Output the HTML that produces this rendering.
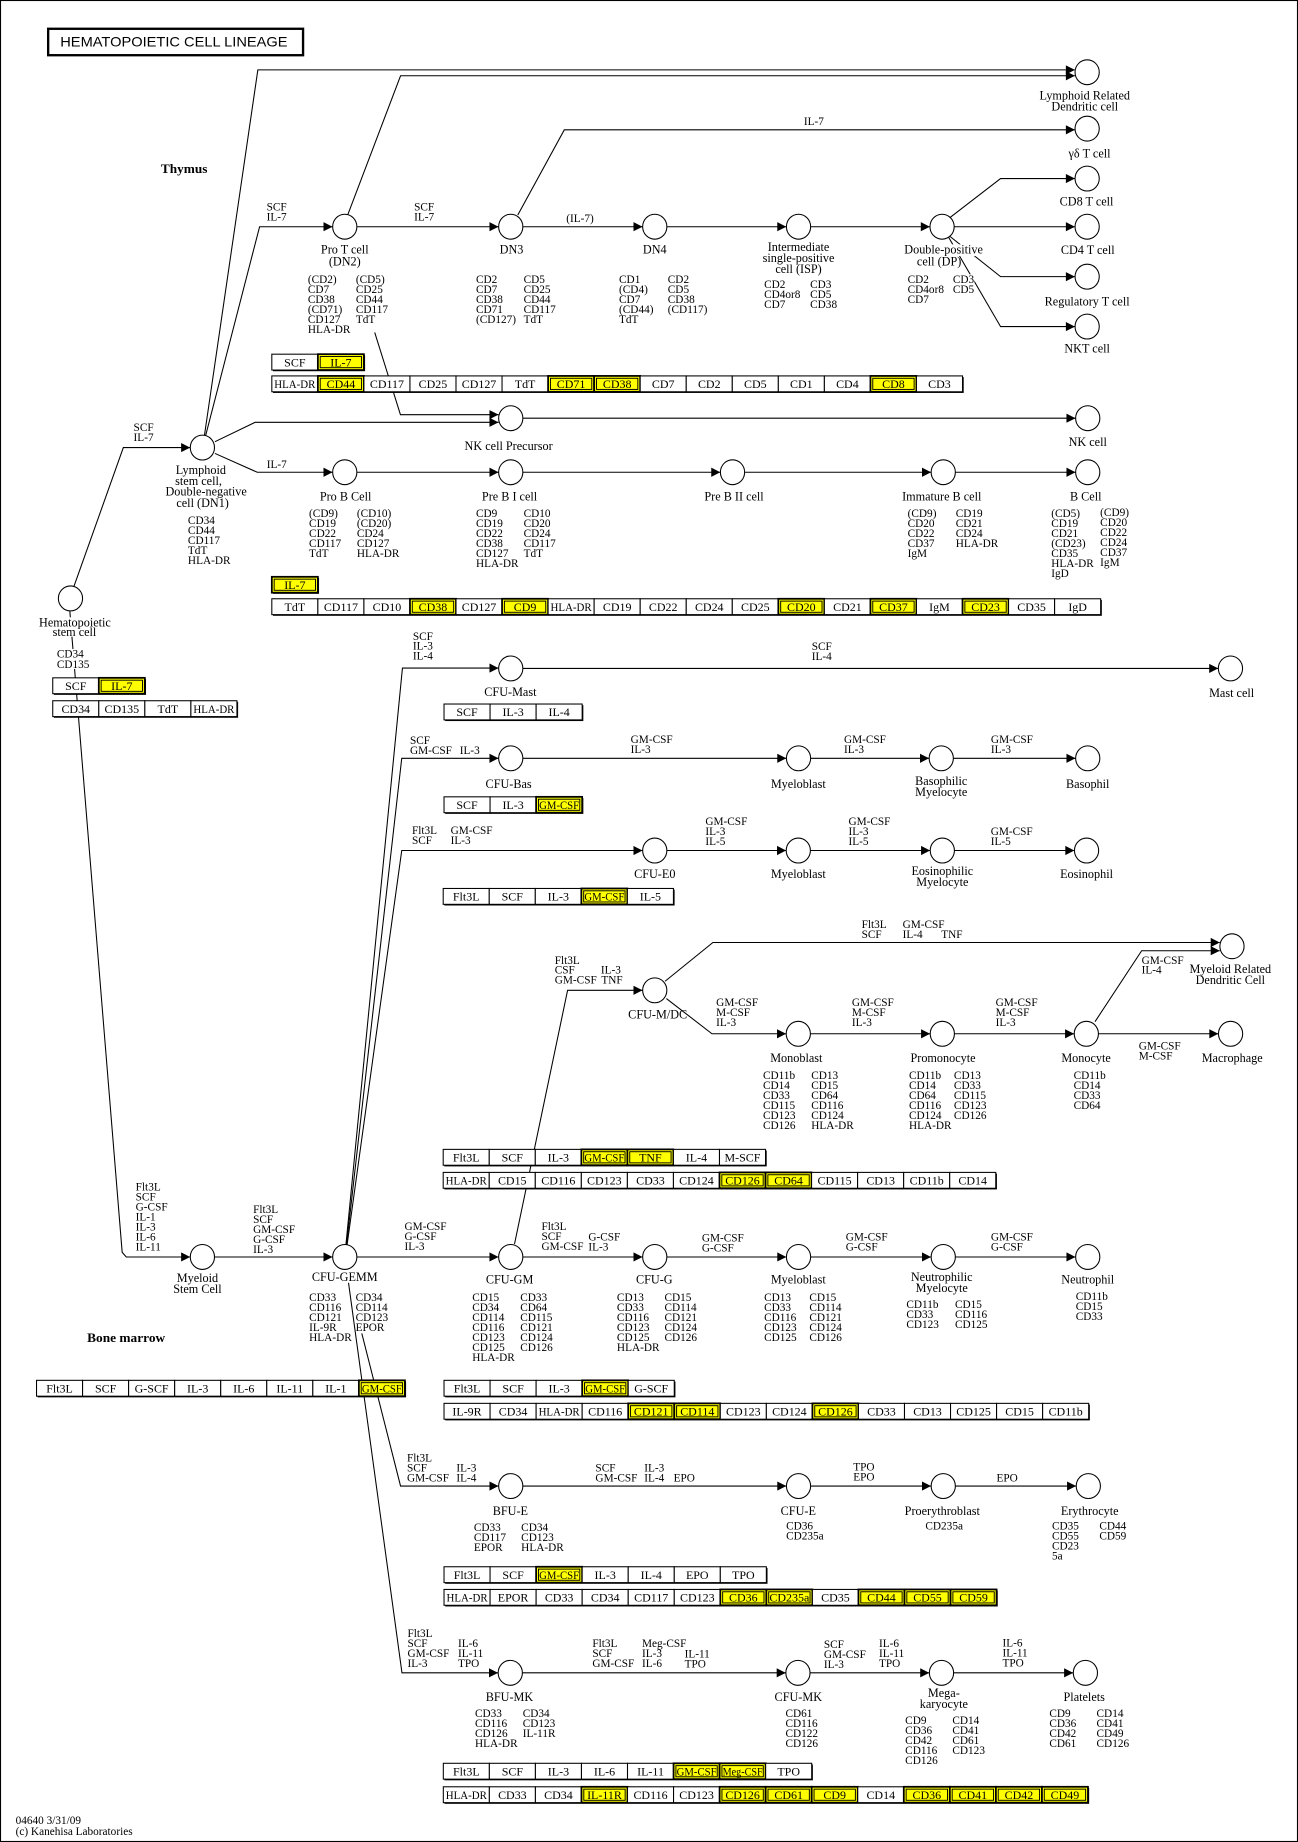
<!DOCTYPE html>
<html><head><meta charset="utf-8"><title>Hematopoietic cell lineage</title>
<style>
html,body{margin:0;padding:0;background:#fff;}
svg{display:block;}
text{font-family:"Liberation Serif","DejaVu Serif",serif;font-size:9.6px;fill:#000;}
.m{text-anchor:middle;}
.nl text{font-size:10.4px;}
.bx{font-size:10.2px;text-anchor:middle;}
.ln{fill:none;stroke:#000;stroke-width:0.9;}
.nd{fill:#fff;stroke:#000;stroke-width:0.9;}
.w{fill:#fff;stroke:#000;stroke-width:0.9;}
.y{fill:#ff0;stroke:#000;stroke-width:1.5;}
.yi{fill:none;stroke:#000;stroke-width:0.8;}
.bg{fill:#fff;}
.ttl{font-family:"Liberation Sans","DejaVu Sans",sans-serif;font-size:12px;}
.bold{font-weight:bold;font-size:11px;}
</style></head>
<body>
<svg width="1298" height="1842" viewBox="0 0 1105 1568" preserveAspectRatio="none" xmlns="http://www.w3.org/2000/svg">
<rect x="0" y="0" width="1105" height="1568" fill="#fff"/>
<rect x="0.45" y="0.45" width="1104.1" height="1567.1" fill="none" stroke="#000" stroke-width="0.9"/>

<!-- title -->
<rect x="41" y="24.5" width="217" height="22.5" fill="#fff" stroke="#000" stroke-width="2"/>
<text class="ttl" x="51.3" y="39.4" textLength="193.5" lengthAdjust="spacingAndGlyphs">HEMATOPOIETIC  CELL  LINEAGE</text>

<text class="bold" x="137" y="147.4" textLength="39.6" lengthAdjust="spacingAndGlyphs">Thymus</text>
<text class="bold" x="74.2" y="1142.2" textLength="66.4" lengthAdjust="spacingAndGlyphs">Bone marrow</text>

<!-- ===== EDGES ===== -->
<g class="ln">
<path d="M174 371 L219.5 59.5 L915 59.5"/>
<path d="M296 183 L341 64.5 L915 64.5"/>
<path d="M175 371 L221 193 L283 193"/>
<path d="M304 193 L424.5 193"/>
<path d="M440.8 183 L480.4 110.5 L915 110.5"/>
<path d="M445 193 L547 193"/>
<path d="M567.7 193 L669.5 193"/>
<path d="M690 193 L791.7 193"/>
<path d="M809 185 L851.8 152 L915 152"/>
<path d="M812.3 193 L915 193"/>
<path d="M808.4 201 L851.8 235.5 L915 235.5"/>
<path d="M807 201 L851.8 278 L915 278"/>
<path d="M183 376 L217.2 359.5 L424.5 359.5"/>
<path d="M319 283 L340.9 353 L424.5 353"/>
<path d="M445 356 L915.6 356"/>
<path d="M183 386 L219 402 L283 402"/>
<path d="M304 402 L424.5 402"/>
<path d="M445 402 L613.3 402"/>
<path d="M634 402 L792.7 402"/>
<path d="M813.3 402 L915.7 402"/>
<path d="M63 499 L105 381 L161.9 381"/>
<path d="M59.4 519.5 L104 1066 L107.5 1070 L161.9 1070"/>
<path d="M182.6 1070 L283.1 1070"/>
<path d="M294.5 1059.5 L342.6 568.7 L424.5 568.7"/>
<path d="M295 1059.5 L342 645.5 L424.5 645.5"/>
<path d="M295.5 1059.5 L342 724 L547 724"/>
<path d="M445 569 L1037.1 569"/>
<path d="M445 645.5 L669.4 645.5"/>
<path d="M690 645.5 L790.9 645.5"/>
<path d="M811.6 645.5 L915.6 645.5"/>
<path d="M567.7 724 L669.2 724"/>
<path d="M690 724 L791.8 724"/>
<path d="M812.5 724 L914.6 724"/>
<path d="M438 1059 L483.2 843 L547 843"/>
<path d="M566.2 835.3 L606.9 802.3 L1038.4 802.3"/>
<path d="M567.3 850 L606.1 880 L669.2 880"/>
<path d="M690 880 L791.8 880"/>
<path d="M812.5 880 L914.4 880"/>
<path d="M935 880 L1037.2 880"/>
<path d="M932.2 869.7 L971.9 809.3 L1038.4 809.3"/>
<path d="M303.8 1070 L424.4 1070"/>
<path d="M445 1070 L547 1070"/>
<path d="M567.7 1070 L669.4 1070"/>
<path d="M690 1070 L792.6 1070"/>
<path d="M813.3 1070 L915.6 1070"/>
<path d="M308 1135 L341 1265 L424.4 1265"/>
<path d="M445 1265 L669.4 1265"/>
<path d="M690 1265 L792.6 1265"/>
<path d="M813.3 1265 L916.1 1265"/>
<path d="M296.7 1092 L342.2 1424 L424 1424"/>
<path d="M444.7 1424 L668.9 1424"/>
<path d="M689.6 1424 L791.1 1424"/>
<path d="M811.8 1424 L913.6 1424"/>
</g>

<!-- ===== ARROWHEADS ===== -->
<g fill="#000">
<path d="M915.1 59.5 l-7.7 -3.9 v7.8 z"/>
<path d="M915.1 64.5 l-7.7 -3.9 v7.8 z"/>
<path d="M283.1 193 l-7.7 -3.9 v7.8 z"/>
<path d="M424.4 193 l-7.7 -3.9 v7.8 z"/>
<path d="M915.1 110.5 l-7.7 -3.9 v7.8 z"/>
<path d="M547 193 l-7.7 -3.9 v7.8 z"/>
<path d="M669.4 193 l-7.7 -3.9 v7.8 z"/>
<path d="M791.6 193 l-7.7 -3.9 v7.8 z"/>
<path d="M915.1 152 l-7.7 -3.9 v7.8 z"/>
<path d="M915.1 193 l-7.7 -3.9 v7.8 z"/>
<path d="M915.1 235.5 l-7.7 -3.9 v7.8 z"/>
<path d="M915.1 278 l-7.7 -3.9 v7.8 z"/>
<path d="M424.4 359.5 l-7.7 -3.9 v7.8 z"/>
<path d="M424.4 353 l-7.7 -3.9 v7.8 z"/>
<path d="M915.6 356 l-7.7 -3.9 v7.8 z"/>
<path d="M283.1 402 l-7.7 -3.9 v7.8 z"/>
<path d="M424.4 402 l-7.7 -3.9 v7.8 z"/>
<path d="M613.2 402 l-7.7 -3.9 v7.8 z"/>
<path d="M792.6 402 l-7.7 -3.9 v7.8 z"/>
<path d="M915.6 402 l-7.7 -3.9 v7.8 z"/>
<path d="M161.9 381 l-7.7 -3.9 v7.8 z"/>
<path d="M161.9 1070 l-7.7 -3.9 v7.8 z"/>
<path d="M283.1 1070 l-7.7 -3.9 v7.8 z"/>
<path d="M424.4 568.7 l-7.7 -3.9 v7.8 z"/>
<path d="M424.4 645.5 l-7.7 -3.9 v7.8 z"/>
<path d="M547 724 l-7.7 -3.9 v7.8 z"/>
<path d="M1037.1 569 l-7.7 -3.9 v7.8 z"/>
<path d="M669.4 645.5 l-7.7 -3.9 v7.8 z"/>
<path d="M790.9 645.5 l-7.7 -3.9 v7.8 z"/>
<path d="M915.6 645.5 l-7.7 -3.9 v7.8 z"/>
<path d="M669.2 724 l-7.7 -3.9 v7.8 z"/>
<path d="M791.8 724 l-7.7 -3.9 v7.8 z"/>
<path d="M914.6 724 l-7.7 -3.9 v7.8 z"/>
<path d="M547 843 l-7.7 -3.9 v7.8 z"/>
<path d="M1038.4 802.3 l-7.7 -3.9 v7.8 z"/>
<path d="M1038.4 809.3 l-7.7 -3.9 v7.8 z"/>
<path d="M669.2 880 l-7.7 -3.9 v7.8 z"/>
<path d="M791.8 880 l-7.7 -3.9 v7.8 z"/>
<path d="M914.4 880 l-7.7 -3.9 v7.8 z"/>
<path d="M1037.2 880 l-7.7 -3.9 v7.8 z"/>
<path d="M424.4 1070 l-7.7 -3.9 v7.8 z"/>
<path d="M547 1070 l-7.7 -3.9 v7.8 z"/>
<path d="M669.4 1070 l-7.7 -3.9 v7.8 z"/>
<path d="M792.6 1070 l-7.7 -3.9 v7.8 z"/>
<path d="M915.6 1070 l-7.7 -3.9 v7.8 z"/>
<path d="M424.4 1265 l-7.7 -3.9 v7.8 z"/>
<path d="M669.4 1265 l-7.7 -3.9 v7.8 z"/>
<path d="M792.6 1265 l-7.7 -3.9 v7.8 z"/>
<path d="M916.1 1265 l-7.7 -3.9 v7.8 z"/>
<path d="M424 1424 l-7.7 -3.9 v7.8 z"/>
<path d="M668.9 1424 l-7.7 -3.9 v7.8 z"/>
<path d="M791.1 1424 l-7.7 -3.9 v7.8 z"/>
<path d="M913.6 1424 l-7.7 -3.9 v7.8 z"/>
</g>

<!-- ===== NODES ===== -->
<g class="nd">
<ellipse cx="60" cy="509.4" rx="10.3" ry="10.6"/>
<ellipse cx="172.3" cy="381" rx="10.3" ry="10.6"/>
<ellipse cx="293.5" cy="193" rx="10.3" ry="10.6"/>
<ellipse cx="434.8" cy="193" rx="10.3" ry="10.6"/>
<ellipse cx="557.4" cy="193" rx="10.3" ry="10.6"/>
<ellipse cx="679.8" cy="193" rx="10.3" ry="10.6"/>
<ellipse cx="802" cy="193" rx="10.3" ry="10.6"/>
<ellipse cx="925.5" cy="61.5" rx="10.3" ry="10.6"/>
<ellipse cx="925.5" cy="109.5" rx="10.3" ry="10.6"/>
<ellipse cx="925.5" cy="152" rx="10.3" ry="10.6"/>
<ellipse cx="925.5" cy="193" rx="10.3" ry="10.6"/>
<ellipse cx="925.5" cy="235.5" rx="10.3" ry="10.6"/>
<ellipse cx="925.5" cy="278" rx="10.3" ry="10.6"/>
<ellipse cx="434.8" cy="356" rx="10.3" ry="10.6"/>
<ellipse cx="926" cy="356" rx="10.3" ry="10.6"/>
<ellipse cx="293.5" cy="402" rx="10.3" ry="10.6"/>
<ellipse cx="434.8" cy="402" rx="10.3" ry="10.6"/>
<ellipse cx="623.6" cy="402" rx="10.3" ry="10.6"/>
<ellipse cx="803" cy="402" rx="10.3" ry="10.6"/>
<ellipse cx="926" cy="402" rx="10.3" ry="10.6"/>
<ellipse cx="434.8" cy="569" rx="10.3" ry="10.6"/>
<ellipse cx="1047.5" cy="569" rx="10.3" ry="10.6"/>
<ellipse cx="434.8" cy="645.5" rx="10.3" ry="10.6"/>
<ellipse cx="679.8" cy="645.5" rx="10.3" ry="10.6"/>
<ellipse cx="801.3" cy="645.5" rx="10.3" ry="10.6"/>
<ellipse cx="926" cy="645.5" rx="10.3" ry="10.6"/>
<ellipse cx="557.4" cy="724" rx="10.3" ry="10.6"/>
<ellipse cx="679.6" cy="724" rx="10.3" ry="10.6"/>
<ellipse cx="802.2" cy="724" rx="10.3" ry="10.6"/>
<ellipse cx="925" cy="724" rx="10.3" ry="10.6"/>
<ellipse cx="557.4" cy="843" rx="10.3" ry="10.6"/>
<ellipse cx="1048.8" cy="805.5" rx="10.3" ry="10.6"/>
<ellipse cx="679.6" cy="880" rx="10.3" ry="10.6"/>
<ellipse cx="802.2" cy="880" rx="10.3" ry="10.6"/>
<ellipse cx="924.8" cy="880" rx="10.3" ry="10.6"/>
<ellipse cx="1047.6" cy="880" rx="10.3" ry="10.6"/>
<ellipse cx="172.3" cy="1070" rx="10.3" ry="10.6"/>
<ellipse cx="293.5" cy="1070" rx="10.3" ry="10.6"/>
<ellipse cx="434.8" cy="1070" rx="10.3" ry="10.6"/>
<ellipse cx="557.4" cy="1070" rx="10.3" ry="10.6"/>
<ellipse cx="679.8" cy="1070" rx="10.3" ry="10.6"/>
<ellipse cx="803" cy="1070" rx="10.3" ry="10.6"/>
<ellipse cx="926" cy="1070" rx="10.3" ry="10.6"/>
<ellipse cx="434.8" cy="1265" rx="10.3" ry="10.6"/>
<ellipse cx="679.8" cy="1265" rx="10.3" ry="10.6"/>
<ellipse cx="803" cy="1265" rx="10.3" ry="10.6"/>
<ellipse cx="926.5" cy="1265" rx="10.3" ry="10.6"/>
<ellipse cx="434.4" cy="1424" rx="10.3" ry="10.6"/>
<ellipse cx="679.3" cy="1424" rx="10.3" ry="10.6"/>
<ellipse cx="801.5" cy="1424" rx="10.3" ry="10.6"/>
<ellipse cx="924" cy="1424" rx="10.3" ry="10.6"/>
</g>

<!-- white backgrounds hiding lines behind labels -->
<rect class="bg" x="30" y="525.5" width="67" height="16.5"/>
<rect class="bg" x="47" y="552.5" width="30" height="17"/>
<rect class="bg" x="769" y="208" width="68" height="10"/>
<rect class="bg" x="810.5" y="233.5" width="19" height="16.5"/>

<!-- ===== NODE LABELS ===== -->
<g class="m nl">
<text x="923.5" y="84.9">Lymphoid Related</text>
<text x="923.5" y="94.2">Dendritic cell</text>
<text x="927.5" y="134.2">γδ T cell</text>
<text x="925" y="174.9">CD8 T cell</text>
<text x="926" y="216.2">CD4 T cell</text>
<text x="925.5" y="260.2">Regulatory T cell</text>
<text x="925.5" y="300.2">NKT cell</text>
<text x="293.5" y="216">Pro T cell</text>
<text x="293.5" y="226.2">(DN2)</text>
<text x="435.5" y="216">DN3</text>
<text x="557.4" y="216">DN4</text>
<text x="679.8" y="213.7">Intermediate</text>
<text x="679.8" y="223.1">single-positive</text>
<text x="679.8" y="232.2">cell (ISP)</text>
<text x="803.3" y="216">Double-positive</text>
<text x="799.5" y="226.2">cell (DP)</text>
<text x="433" y="382.9">NK cell Precursor</text>
<text x="926" y="379.7">NK cell</text>
<text x="171" y="403.3">Lymphoid</text>
<text x="169" y="412.7">stem cell,</text>
<text x="175.5" y="422">Double-negative</text>
<text x="172.5" y="431.7">cell (DN1)</text>
<text x="294.2" y="426.2">Pro B Cell</text>
<text x="433.8" y="426.2">Pre B I cell</text>
<text x="624.9" y="426.2">Pre B II cell</text>
<text x="801.7" y="426.2">Immature B cell</text>
<text x="924.3" y="426.2">B Cell</text>
<text x="63.8" y="533.2">Hematopoietic</text>
<text x="63.4" y="541.5">stem cell</text>
<text x="434.5" y="592.3">CFU-Mast</text>
<text x="1048.5" y="593.2">Mast cell</text>
<text x="433" y="670.6">CFU-Bas</text>
<text x="679.6" y="670.6">Myeloblast</text>
<text x="801.3" y="668.1">Basophilic</text>
<text x="801.3" y="677.4">Myelocyte</text>
<text x="926" y="670.6">Basophil</text>
<text x="557.4" y="747.2">CFU-E0</text>
<text x="679.6" y="747.2">Myeloblast</text>
<text x="802.2" y="744.7">Eosinophilic</text>
<text x="802.2" y="754">Myelocyte</text>
<text x="925" y="747.2">Eosinophil</text>
<text x="559.9" y="867.2">CFU-M/DC</text>
<text x="1047.4" y="828.1">Myeloid Related</text>
<text x="1047.4" y="837.5">Dendritic Cell</text>
<text x="677.9" y="903.9">Monoblast</text>
<text x="802.8" y="903.9">Promonocyte</text>
<text x="924.6" y="903.9">Monocyte</text>
<text x="1049" y="903.9">Macrophage</text>
<text x="168.1" y="1091.4">Myeloid</text>
<text x="168.1" y="1100.5">Stem Cell</text>
<text x="293.5" y="1090.6">CFU-GEMM</text>
<text x="433.8" y="1092.8">CFU-GM</text>
<text x="557" y="1092.8">CFU-G</text>
<text x="679.6" y="1092.8">Myeloblast</text>
<text x="801.7" y="1090.3">Neutrophilic</text>
<text x="801.7" y="1099.7">Myelocyte</text>
<text x="926" y="1092.8">Neutrophil</text>
<text x="434.5" y="1289.5">BFU-E</text>
<text x="679.6" y="1289.5">CFU-E</text>
<text x="802.2" y="1289.5">Proerythroblast</text>
<text x="927.7" y="1289.5">Erythrocyte</text>
<text x="433.7" y="1448.1">BFU-MK</text>
<text x="679.6" y="1448.1">CFU-MK</text>
<text x="803.5" y="1444.7">Mega-</text>
<text x="803.5" y="1454">karyocyte</text>
<text x="923" y="1448.1">Platelets</text>
</g>
<text class="m" x="803.8" y="1302.2">CD235a</text>

<!-- ===== MARKER LISTS ===== -->
<g>
<text x="262.1" y="241"><tspan>(CD2)</tspan><tspan x="262.1" dy="8.5">CD7</tspan><tspan x="262.1" dy="8.5">CD38</tspan><tspan x="262.1" dy="8.5">(CD71)</tspan><tspan x="262.1" dy="8.5">CD127</tspan><tspan x="262.1" dy="8.5">HLA-DR</tspan></text>
<text x="303" y="241"><tspan>(CD5)</tspan><tspan x="303" dy="8.5">CD25</tspan><tspan x="303" dy="8.5">CD44</tspan><tspan x="303" dy="8.5">CD117</tspan><tspan x="303" dy="8.5">TdT</tspan></text>
<text x="405.2" y="241"><tspan>CD2</tspan><tspan x="405.2" dy="8.5">CD7</tspan><tspan x="405.2" dy="8.5">CD38</tspan><tspan x="405.2" dy="8.5">CD71</tspan><tspan x="405.2" dy="8.5">(CD127)</tspan></text>
<text x="445.8" y="241"><tspan>CD5</tspan><tspan x="445.8" dy="8.5">CD25</tspan><tspan x="445.8" dy="8.5">CD44</tspan><tspan x="445.8" dy="8.5">CD117</tspan><tspan x="445.8" dy="8.5">TdT</tspan></text>
<text x="527" y="241"><tspan>CD1</tspan><tspan x="527" dy="8.5">(CD4)</tspan><tspan x="527" dy="8.5">CD7</tspan><tspan x="527" dy="8.5">(CD44)</tspan><tspan x="527" dy="8.5">TdT</tspan></text>
<text x="568.5" y="241"><tspan>CD2</tspan><tspan x="568.5" dy="8.5">CD5</tspan><tspan x="568.5" dy="8.5">CD38</tspan><tspan x="568.5" dy="8.5">(CD117)</tspan></text>
<text x="650.5" y="245.2"><tspan>CD2</tspan><tspan x="650.5" dy="8.5">CD4or8</tspan><tspan x="650.5" dy="8.5">CD7</tspan></text>
<text x="689.7" y="245.2"><tspan>CD3</tspan><tspan x="689.7" dy="8.5">CD5</tspan><tspan x="689.7" dy="8.5">CD38</tspan></text>
<text x="772.7" y="241"><tspan>CD2</tspan><tspan x="772.7" dy="8.5">CD4or8</tspan><tspan x="772.7" dy="8.5">CD7</tspan></text>
<text x="811.2" y="241"><tspan>CD3</tspan><tspan x="811.2" dy="8.5">CD5</tspan></text>

<text x="160" y="445.9"><tspan>CD34</tspan><tspan x="160" dy="8.5">CD44</tspan><tspan x="160" dy="8.5">CD117</tspan><tspan x="160" dy="8.5">TdT</tspan><tspan x="160" dy="8.5">HLA-DR</tspan></text>
<text x="263.1" y="440.2"><tspan>(CD9)</tspan><tspan x="263.1" dy="8.5">CD19</tspan><tspan x="263.1" dy="8.5">CD22</tspan><tspan x="263.1" dy="8.5">CD117</tspan><tspan x="263.1" dy="8.5">TdT</tspan></text>
<text x="303.8" y="440.2"><tspan>(CD10)</tspan><tspan x="303.8" dy="8.5">(CD20)</tspan><tspan x="303.8" dy="8.5">CD24</tspan><tspan x="303.8" dy="8.5">CD127</tspan><tspan x="303.8" dy="8.5">HLA-DR</tspan></text>
<text x="405.2" y="440.2"><tspan>CD9</tspan><tspan x="405.2" dy="8.5">CD19</tspan><tspan x="405.2" dy="8.5">CD22</tspan><tspan x="405.2" dy="8.5">CD38</tspan><tspan x="405.2" dy="8.5">CD127</tspan><tspan x="405.2" dy="8.5">HLA-DR</tspan></text>
<text x="445.8" y="440.2"><tspan>CD10</tspan><tspan x="445.8" dy="8.5">CD20</tspan><tspan x="445.8" dy="8.5">CD24</tspan><tspan x="445.8" dy="8.5">CD117</tspan><tspan x="445.8" dy="8.5">TdT</tspan></text>
<text x="772.7" y="440.2"><tspan>(CD9)</tspan><tspan x="772.7" dy="8.5">CD20</tspan><tspan x="772.7" dy="8.5">CD22</tspan><tspan x="772.7" dy="8.5">CD37</tspan><tspan x="772.7" dy="8.5">IgM</tspan></text>
<text x="813.6" y="440.2"><tspan>CD19</tspan><tspan x="813.6" dy="8.5">CD21</tspan><tspan x="813.6" dy="8.5">CD24</tspan><tspan x="813.6" dy="8.5">HLA-DR</tspan></text>
<text x="894.9" y="440.2"><tspan>(CD5)</tspan><tspan x="894.9" dy="8.5">CD19</tspan><tspan x="894.9" dy="8.5">CD21</tspan><tspan x="894.9" dy="8.5">(CD23)</tspan><tspan x="894.9" dy="8.5">CD35</tspan><tspan x="894.9" dy="8.5">HLA-DR</tspan><tspan x="894.9" dy="8.5">IgD</tspan></text>
<text x="936.6" y="439.1"><tspan>(CD9)</tspan><tspan x="936.6" dy="8.5">CD20</tspan><tspan x="936.6" dy="8.5">CD22</tspan><tspan x="936.6" dy="8.5">CD24</tspan><tspan x="936.6" dy="8.5">CD37</tspan><tspan x="936.6" dy="8.5">IgM</tspan></text>

<text x="48.4" y="559.9"><tspan>CD34</tspan><tspan x="48.4" dy="8.6">CD135</tspan></text>

<text x="649.5" y="918.6"><tspan>CD11b</tspan><tspan x="649.5" dy="8.5">CD14</tspan><tspan x="649.5" dy="8.5">CD33</tspan><tspan x="649.5" dy="8.5">CD115</tspan><tspan x="649.5" dy="8.5">CD123</tspan><tspan x="649.5" dy="8.5">CD126</tspan></text>
<text x="690.6" y="918.6"><tspan>CD13</tspan><tspan x="690.6" dy="8.5">CD15</tspan><tspan x="690.6" dy="8.5">CD64</tspan><tspan x="690.6" dy="8.5">CD116</tspan><tspan x="690.6" dy="8.5">CD124</tspan><tspan x="690.6" dy="8.5">HLA-DR</tspan></text>
<text x="773.8" y="918.6"><tspan>CD11b</tspan><tspan x="773.8" dy="8.5">CD14</tspan><tspan x="773.8" dy="8.5">CD64</tspan><tspan x="773.8" dy="8.5">CD116</tspan><tspan x="773.8" dy="8.5">CD124</tspan><tspan x="773.8" dy="8.5">HLA-DR</tspan></text>
<text x="812.1" y="918.6"><tspan>CD13</tspan><tspan x="812.1" dy="8.5">CD33</tspan><tspan x="812.1" dy="8.5">CD115</tspan><tspan x="812.1" dy="8.5">CD123</tspan><tspan x="812.1" dy="8.5">CD126</tspan></text>
<text x="914" y="918.6"><tspan>CD11b</tspan><tspan x="914" dy="8.5">CD14</tspan><tspan x="914" dy="8.5">CD33</tspan><tspan x="914" dy="8.5">CD64</tspan></text>

<text x="263.2" y="1107.6"><tspan>CD33</tspan><tspan x="263.2" dy="8.5">CD116</tspan><tspan x="263.2" dy="8.5">CD121</tspan><tspan x="263.2" dy="8.5">IL-9R</tspan><tspan x="263.2" dy="8.5">HLA-DR</tspan></text>
<text x="302.7" y="1107.6"><tspan>CD34</tspan><tspan x="302.7" dy="8.5">CD114</tspan><tspan x="302.7" dy="8.5">CD123</tspan><tspan x="302.7" dy="8.5">EPOR</tspan></text>
<text x="402" y="1107.6"><tspan>CD15</tspan><tspan x="402" dy="8.5">CD34</tspan><tspan x="402" dy="8.5">CD114</tspan><tspan x="402" dy="8.5">CD116</tspan><tspan x="402" dy="8.5">CD123</tspan><tspan x="402" dy="8.5">CD125</tspan><tspan x="402" dy="8.5">HLA-DR</tspan></text>
<text x="442.9" y="1107.6"><tspan>CD33</tspan><tspan x="442.9" dy="8.5">CD64</tspan><tspan x="442.9" dy="8.5">CD115</tspan><tspan x="442.9" dy="8.5">CD121</tspan><tspan x="442.9" dy="8.5">CD124</tspan><tspan x="442.9" dy="8.5">CD126</tspan></text>
<text x="525.2" y="1107.6"><tspan>CD13</tspan><tspan x="525.2" dy="8.5">CD33</tspan><tspan x="525.2" dy="8.5">CD116</tspan><tspan x="525.2" dy="8.5">CD123</tspan><tspan x="525.2" dy="8.5">CD125</tspan><tspan x="525.2" dy="8.5">HLA-DR</tspan></text>
<text x="565.7" y="1107.6"><tspan>CD15</tspan><tspan x="565.7" dy="8.5">CD114</tspan><tspan x="565.7" dy="8.5">CD121</tspan><tspan x="565.7" dy="8.5">CD124</tspan><tspan x="565.7" dy="8.5">CD126</tspan></text>
<text x="650.5" y="1107.6"><tspan>CD13</tspan><tspan x="650.5" dy="8.5">CD33</tspan><tspan x="650.5" dy="8.5">CD116</tspan><tspan x="650.5" dy="8.5">CD123</tspan><tspan x="650.5" dy="8.5">CD125</tspan></text>
<text x="689" y="1107.6"><tspan>CD15</tspan><tspan x="689" dy="8.5">CD114</tspan><tspan x="689" dy="8.5">CD121</tspan><tspan x="689" dy="8.5">CD124</tspan><tspan x="689" dy="8.5">CD126</tspan></text>
<text x="771.6" y="1113.3"><tspan>CD11b</tspan><tspan x="771.6" dy="8.5">CD33</tspan><tspan x="771.6" dy="8.5">CD123</tspan></text>
<text x="813" y="1113.3"><tspan>CD15</tspan><tspan x="813" dy="8.5">CD116</tspan><tspan x="813" dy="8.5">CD125</tspan></text>
<text x="915.8" y="1106.7"><tspan>CD11b</tspan><tspan x="915.8" dy="8.5">CD15</tspan><tspan x="915.8" dy="8.5">CD33</tspan></text>

<text x="403.4" y="1303.2"><tspan>CD33</tspan><tspan x="403.4" dy="8.5">CD117</tspan><tspan x="403.4" dy="8.5">EPOR</tspan></text>
<text x="443.7" y="1303.2"><tspan>CD34</tspan><tspan x="443.7" dy="8.5">CD123</tspan><tspan x="443.7" dy="8.5">HLA-DR</tspan></text>
<text x="669.2" y="1302.2"><tspan>CD36</tspan><tspan x="669.2" dy="8.5">CD235a</tspan></text>
<text x="895.6" y="1302.2"><tspan>CD35</tspan><tspan x="895.6" dy="8.5">CD55</tspan><tspan x="895.6" dy="8.5">CD23</tspan><tspan x="895.6" dy="8.5">5a</tspan></text>
<text x="935.9" y="1302.2"><tspan>CD44</tspan><tspan x="935.9" dy="8.5">CD59</tspan></text>

<text x="404.4" y="1461.7"><tspan>CD33</tspan><tspan x="404.4" dy="8.5">CD116</tspan><tspan x="404.4" dy="8.5">CD126</tspan><tspan x="404.4" dy="8.5">HLA-DR</tspan></text>
<text x="445" y="1461.7"><tspan>CD34</tspan><tspan x="445" dy="8.5">CD123</tspan><tspan x="445" dy="8.5">IL-11R</tspan></text>
<text x="668.7" y="1461.7"><tspan>CD61</tspan><tspan x="668.7" dy="8.5">CD116</tspan><tspan x="668.7" dy="8.5">CD122</tspan><tspan x="668.7" dy="8.5">CD126</tspan></text>
<text x="770.6" y="1467.4"><tspan>CD9</tspan><tspan x="770.6" dy="8.5">CD36</tspan><tspan x="770.6" dy="8.5">CD42</tspan><tspan x="770.6" dy="8.5">CD116</tspan><tspan x="770.6" dy="8.5">CD126</tspan></text>
<text x="810.8" y="1467.4"><tspan>CD14</tspan><tspan x="810.8" dy="8.5">CD41</tspan><tspan x="810.8" dy="8.5">CD61</tspan><tspan x="810.8" dy="8.5">CD123</tspan></text>
<text x="893.3" y="1461.7"><tspan>CD9</tspan><tspan x="893.3" dy="8.5">CD36</tspan><tspan x="893.3" dy="8.5">CD42</tspan><tspan x="893.3" dy="8.5">CD61</tspan></text>
<text x="933.5" y="1461.7"><tspan>CD14</tspan><tspan x="933.5" dy="8.5">CD41</tspan><tspan x="933.5" dy="8.5">CD49</tspan><tspan x="933.5" dy="8.5">CD126</tspan></text>
</g>

<!-- ===== EDGE LABELS ===== -->
<g>
<text x="113.7" y="367"><tspan>SCF</tspan><tspan x="113.7" dy="8.5">IL-7</tspan></text>
<text x="227" y="179.2"><tspan>SCF</tspan><tspan x="227" dy="8.5">IL-7</tspan></text>
<text x="352.5" y="179.2"><tspan>SCF</tspan><tspan x="352.5" dy="8.5">IL-7</tspan></text>
<text class="m" x="493.8" y="188.8">(IL-7)</text>
<text class="m" x="692.9" y="106.2">IL-7</text>
<text x="227.1" y="398.2">IL-7</text>

<text x="351.5" y="544.6"><tspan>SCF</tspan><tspan x="351.5" dy="8.5">IL-3</tspan><tspan x="351.5" dy="8.5">IL-4</tspan></text>
<text x="691" y="553.2"><tspan>SCF</tspan><tspan x="691" dy="8.5">IL-4</tspan></text>
<text x="349" y="633.2"><tspan>SCF</tspan><tspan x="349" dy="8.5">GM-CSF</tspan></text>
<text x="391.4" y="641.7">IL-3</text>
<text x="536.9" y="632.6"><tspan>GM-CSF</tspan><tspan x="536.9" dy="8.5">IL-3</tspan></text>
<text x="718.5" y="632.6"><tspan>GM-CSF</tspan><tspan x="718.5" dy="8.5">IL-3</tspan></text>
<text x="843.6" y="632.6"><tspan>GM-CSF</tspan><tspan x="843.6" dy="8.5">IL-3</tspan></text>

<text x="350.7" y="709.8"><tspan>Flt3L</tspan><tspan x="350.7" dy="8.5">SCF</tspan></text>
<text x="383.6" y="709.8"><tspan>GM-CSF</tspan><tspan x="383.6" dy="8.5">IL-3</tspan></text>
<text x="600.5" y="702.2"><tspan>GM-CSF</tspan><tspan x="600.5" dy="8.5">IL-3</tspan><tspan x="600.5" dy="8.5">IL-5</tspan></text>
<text x="722.3" y="702.2"><tspan>GM-CSF</tspan><tspan x="722.3" dy="8.5">IL-3</tspan><tspan x="722.3" dy="8.5">IL-5</tspan></text>
<text x="843.4" y="710.7"><tspan>GM-CSF</tspan><tspan x="843.4" dy="8.5">IL-5</tspan></text>

<text x="472.3" y="820.4"><tspan>Flt3L</tspan><tspan x="472.3" dy="8.5">CSF</tspan><tspan x="472.3" dy="8.5">GM-CSF</tspan></text>
<text x="511.5" y="828.9"><tspan>IL-3</tspan><tspan x="512" dy="8.5">TNF</tspan></text>
<text x="733.5" y="790.1"><tspan>Flt3L</tspan><tspan x="733.5" dy="8.5">SCF</tspan></text>
<text x="768.4" y="790.1"><tspan>GM-CSF</tspan><tspan x="768.4" dy="8.5">IL-4</tspan></text>
<text x="801.3" y="798.6">TNF</text>
<text x="609.7" y="856.5"><tspan>GM-CSF</tspan><tspan x="609.7" dy="8.5">M-CSF</tspan><tspan x="609.7" dy="8.5">IL-3</tspan></text>
<text x="725.2" y="856.5"><tspan>GM-CSF</tspan><tspan x="725.2" dy="8.5">M-CSF</tspan><tspan x="725.2" dy="8.5">IL-3</tspan></text>
<text x="847.6" y="856.5"><tspan>GM-CSF</tspan><tspan x="847.6" dy="8.5">M-CSF</tspan><tspan x="847.6" dy="8.5">IL-3</tspan></text>
<text x="969.4" y="893.6"><tspan>GM-CSF</tspan><tspan x="969.4" dy="8.5">M-CSF</tspan></text>
<text x="971.9" y="820.4"><tspan>GM-CSF</tspan><tspan x="971.9" dy="8.5">IL-4</tspan></text>

<text x="115.5" y="1013.5"><tspan>Flt3L</tspan><tspan x="115.5" dy="8.5">SCF</tspan><tspan x="115.5" dy="8.5">G-CSF</tspan><tspan x="115.5" dy="8.5">IL-1</tspan><tspan x="115.5" dy="8.5">IL-3</tspan><tspan x="115.5" dy="8.5">IL-6</tspan><tspan x="115.5" dy="8.5">IL-11</tspan></text>
<text x="215.5" y="1032.7"><tspan>Flt3L</tspan><tspan x="215.5" dy="8.5">SCF</tspan><tspan x="215.5" dy="8.5">GM-CSF</tspan><tspan x="215.5" dy="8.5">G-CSF</tspan><tspan x="215.5" dy="8.5">IL-3</tspan></text>
<text x="344.4" y="1046.9"><tspan>GM-CSF</tspan><tspan x="344.4" dy="8.5">G-CSF</tspan><tspan x="344.4" dy="8.5">IL-3</tspan></text>
<text x="461" y="1046.9"><tspan>Flt3L</tspan><tspan x="461" dy="8.5">SCF</tspan><tspan x="461" dy="8.5">GM-CSF</tspan></text>
<text x="500.9" y="1056"><tspan>G-CSF</tspan><tspan x="500.9" dy="8.5">IL-3</tspan></text>
<text x="597.5" y="1056.8"><tspan>GM-CSF</tspan><tspan x="597.5" dy="8.5">G-CSF</tspan></text>
<text x="720" y="1056"><tspan>GM-CSF</tspan><tspan x="720" dy="8.5">G-CSF</tspan></text>
<text x="843.6" y="1056"><tspan>GM-CSF</tspan><tspan x="843.6" dy="8.5">G-CSF</tspan></text>

<text x="346.5" y="1244.1"><tspan>Flt3L</tspan><tspan x="346.5" dy="8.5">SCF</tspan><tspan x="346.5" dy="8.5">GM-CSF</tspan></text>
<text x="388.5" y="1252.6"><tspan>IL-3</tspan><tspan x="388.5" dy="8.5">IL-4</tspan></text>
<text x="506.9" y="1252.6"><tspan>SCF</tspan><tspan x="506.9" dy="8.5">GM-CSF</tspan></text>
<text x="548.5" y="1252.6"><tspan>IL-3</tspan><tspan x="548.5" dy="8.5">IL-4</tspan></text>
<text x="573.5" y="1261.1">EPO</text>
<text x="726.4" y="1251.8"><tspan>TPO</tspan><tspan x="726.4" dy="8.5">EPO</tspan></text>
<text x="848.3" y="1261.2">EPO</text>

<text x="346.9" y="1393.6"><tspan>Flt3L</tspan><tspan x="346.9" dy="8.5">SCF</tspan><tspan x="346.9" dy="8.5">GM-CSF</tspan><tspan x="346.9" dy="8.5">IL-3</tspan></text>
<text x="389.9" y="1402.1"><tspan>IL-6</tspan><tspan x="389.9" dy="8.5">IL-11</tspan><tspan x="389.9" dy="8.5">TPO</tspan></text>
<text x="504.3" y="1402.1"><tspan>Flt3L</tspan><tspan x="504.3" dy="8.5">SCF</tspan><tspan x="504.3" dy="8.5">GM-CSF</tspan></text>
<text x="546.5" y="1402.1"><tspan>Meg-CSF</tspan><tspan x="546.5" dy="8.5">IL-3</tspan><tspan x="546.5" dy="8.5">IL-6</tspan></text>
<text x="582.8" y="1411"><tspan>IL-11</tspan><tspan x="582.8" dy="8.5">TPO</tspan></text>
<text x="701.4" y="1403"><tspan>SCF</tspan><tspan x="701.4" dy="8.5">GM-CSF</tspan><tspan x="701.4" dy="8.5">IL-3</tspan></text>
<text x="748.3" y="1402.1"><tspan>IL-6</tspan><tspan x="748.3" dy="8.5">IL-11</tspan><tspan x="748.3" dy="8.5">TPO</tspan></text>
<text x="853.4" y="1401.5"><tspan>IL-6</tspan><tspan x="853.4" dy="8.5">IL-11</tspan><tspan x="853.4" dy="8.5">TPO</tspan></text>
</g>

<!-- ===== BOX ROWS ===== -->
<!-- Thymus row A -->
<g>
<rect x="232.4" y="302.5" width="78.4" height="13.5" fill="#000"/>
<rect class="w" x="231.4" y="301.5" width="39.2" height="13.5"/><text class="bx" x="251" y="311.9">SCF</text>
<rect class="y" x="270.6" y="301.5" width="39.2" height="13.5"/><rect class="yi" x="272.6" y="303.5" width="35.2" height="9.5"/><text class="bx" x="290.2" y="311.9">IL-7</text>
</g>
<!-- Thymus row B -->
<g>
<rect x="232.4" y="321" width="588" height="13.5" fill="#000"/>
<rect class="w" x="231.4" y="320" width="39.2" height="13.5"/><text class="bx" x="251" y="330.4" textLength="35" lengthAdjust="spacingAndGlyphs">HLA-DR</text>
<rect class="y" x="270.6" y="320" width="39.2" height="13.5"/><rect class="yi" x="272.6" y="322" width="35.2" height="9.5"/><text class="bx" x="290.2" y="330.4">CD44</text>
<rect class="w" x="309.8" y="320" width="39.2" height="13.5"/><text class="bx" x="329.4" y="330.4">CD117</text>
<rect class="w" x="349" y="320" width="39.2" height="13.5"/><text class="bx" x="368.6" y="330.4">CD25</text>
<rect class="w" x="388.2" y="320" width="39.2" height="13.5"/><text class="bx" x="407.8" y="330.4">CD127</text>
<rect class="w" x="427.4" y="320" width="39.2" height="13.5"/><text class="bx" x="447" y="330.4">TdT</text>
<rect class="y" x="466.6" y="320" width="39.2" height="13.5"/><rect class="yi" x="468.6" y="322" width="35.2" height="9.5"/><text class="bx" x="486.2" y="330.4">CD71</text>
<rect class="y" x="505.8" y="320" width="39.2" height="13.5"/><rect class="yi" x="507.8" y="322" width="35.2" height="9.5"/><text class="bx" x="525.4" y="330.4">CD38</text>
<rect class="w" x="545" y="320" width="39.2" height="13.5"/><text class="bx" x="564.6" y="330.4">CD7</text>
<rect class="w" x="584.2" y="320" width="39.2" height="13.5"/><text class="bx" x="603.8" y="330.4">CD2</text>
<rect class="w" x="623.4" y="320" width="39.2" height="13.5"/><text class="bx" x="643" y="330.4">CD5</text>
<rect class="w" x="662.6" y="320" width="39.2" height="13.5"/><text class="bx" x="682.2" y="330.4">CD1</text>
<rect class="w" x="701.8" y="320" width="39.2" height="13.5"/><text class="bx" x="721.4" y="330.4">CD4</text>
<rect class="y" x="741" y="320" width="39.2" height="13.5"/><rect class="yi" x="743" y="322" width="35.2" height="9.5"/><text class="bx" x="760.6" y="330.4">CD8</text>
<rect class="w" x="780.2" y="320" width="39.2" height="13.5"/><text class="bx" x="799.8" y="330.4">CD3</text>
</g>
<!-- B row A -->
<g>
<rect x="232.4" y="492" width="39.2" height="13.5" fill="#000"/>
<rect class="y" x="231.4" y="491" width="39.2" height="13.5"/><rect class="yi" x="233.4" y="493" width="35.2" height="9.5"/><text class="bx" x="251" y="501.4">IL-7</text>
</g>
<!-- B row B -->
<g>
<rect x="232.4" y="510.7" width="705.6" height="13.5" fill="#000"/>
<rect class="w" x="231.4" y="509.7" width="39.2" height="13.5"/><text class="bx" x="251" y="520.1">TdT</text>
<rect class="w" x="270.6" y="509.7" width="39.2" height="13.5"/><text class="bx" x="290.2" y="520.1">CD117</text>
<rect class="w" x="309.8" y="509.7" width="39.2" height="13.5"/><text class="bx" x="329.4" y="520.1">CD10</text>
<rect class="y" x="349" y="509.7" width="39.2" height="13.5"/><rect class="yi" x="351" y="511.7" width="35.2" height="9.5"/><text class="bx" x="368.6" y="520.1">CD38</text>
<rect class="w" x="388.2" y="509.7" width="39.2" height="13.5"/><text class="bx" x="407.8" y="520.1">CD127</text>
<rect class="y" x="427.4" y="509.7" width="39.2" height="13.5"/><rect class="yi" x="429.4" y="511.7" width="35.2" height="9.5"/><text class="bx" x="447" y="520.1">CD9</text>
<rect class="w" x="466.6" y="509.7" width="39.2" height="13.5"/><text class="bx" x="486.2" y="520.1" textLength="35" lengthAdjust="spacingAndGlyphs">HLA-DR</text>
<rect class="w" x="505.8" y="509.7" width="39.2" height="13.5"/><text class="bx" x="525.4" y="520.1">CD19</text>
<rect class="w" x="545" y="509.7" width="39.2" height="13.5"/><text class="bx" x="564.6" y="520.1">CD22</text>
<rect class="w" x="584.2" y="509.7" width="39.2" height="13.5"/><text class="bx" x="603.8" y="520.1">CD24</text>
<rect class="w" x="623.4" y="509.7" width="39.2" height="13.5"/><text class="bx" x="643" y="520.1">CD25</text>
<rect class="y" x="662.6" y="509.7" width="39.2" height="13.5"/><rect class="yi" x="664.6" y="511.7" width="35.2" height="9.5"/><text class="bx" x="682.2" y="520.1">CD20</text>
<rect class="w" x="701.8" y="509.7" width="39.2" height="13.5"/><text class="bx" x="721.4" y="520.1">CD21</text>
<rect class="y" x="741" y="509.7" width="39.2" height="13.5"/><rect class="yi" x="743" y="511.7" width="35.2" height="9.5"/><text class="bx" x="760.6" y="520.1">CD37</text>
<rect class="w" x="780.2" y="509.7" width="39.2" height="13.5"/><text class="bx" x="799.8" y="520.1">IgM</text>
<rect class="y" x="819.4" y="509.7" width="39.2" height="13.5"/><rect class="yi" x="821.4" y="511.7" width="35.2" height="9.5"/><text class="bx" x="839" y="520.1">CD23</text>
<rect class="w" x="858.6" y="509.7" width="39.2" height="13.5"/><text class="bx" x="878.2" y="520.1">CD35</text>
<rect class="w" x="897.8" y="509.7" width="39.2" height="13.5"/><text class="bx" x="917.4" y="520.1">IgD</text>
</g>
<!-- HSC rows -->
<g>
<rect x="45.9" y="578" width="78.4" height="13.5" fill="#000"/>
<rect class="w" x="44.9" y="577" width="39.2" height="13.5"/><text class="bx" x="64.5" y="587.4">SCF</text>
<rect class="y" x="84.1" y="577" width="39.2" height="13.5"/><rect class="yi" x="86.1" y="579" width="35.2" height="9.5"/><text class="bx" x="103.7" y="587.4">IL-7</text>
<rect x="45.9" y="597.5" width="156.8" height="13.5" fill="#000"/>
<rect class="w" x="44.9" y="596.5" width="39.2" height="13.5"/><text class="bx" x="64.5" y="606.9">CD34</text>
<rect class="w" x="84.1" y="596.5" width="39.2" height="13.5"/><text class="bx" x="103.7" y="606.9">CD135</text>
<rect class="w" x="123.3" y="596.5" width="39.2" height="13.5"/><text class="bx" x="142.9" y="606.9">TdT</text>
<rect class="w" x="162.5" y="596.5" width="39.2" height="13.5"/><text class="bx" x="182.1" y="606.9" textLength="35" lengthAdjust="spacingAndGlyphs">HLA-DR</text>
</g>
<!-- CFU-Mast -->
<g>
<rect x="379" y="600.3" width="117.6" height="13.5" fill="#000"/>
<rect class="w" x="378" y="599.3" width="39.2" height="13.5"/><text class="bx" x="397.6" y="609.7">SCF</text>
<rect class="w" x="417.2" y="599.3" width="39.2" height="13.5"/><text class="bx" x="436.8" y="609.7">IL-3</text>
<rect class="w" x="456.4" y="599.3" width="39.2" height="13.5"/><text class="bx" x="476" y="609.7">IL-4</text>
</g>
<!-- CFU-Bas -->
<g>
<rect x="379" y="679.3" width="117.6" height="13.5" fill="#000"/>
<rect class="w" x="378" y="678.3" width="39.2" height="13.5"/><text class="bx" x="397.6" y="688.7">SCF</text>
<rect class="w" x="417.2" y="678.3" width="39.2" height="13.5"/><text class="bx" x="436.8" y="688.7">IL-3</text>
<rect class="y" x="456.4" y="678.3" width="39.2" height="13.5"/><rect class="yi" x="458.4" y="680.3" width="35.2" height="9.5"/><text class="bx" x="476" y="688.7" textLength="34" lengthAdjust="spacingAndGlyphs">GM-CSF</text>
</g>
<!-- CFU-E0 -->
<g>
<rect x="378.3" y="757.3" width="196" height="13.5" fill="#000"/>
<rect class="w" x="377.3" y="756.3" width="39.2" height="13.5"/><text class="bx" x="396.9" y="766.7">Flt3L</text>
<rect class="w" x="416.5" y="756.3" width="39.2" height="13.5"/><text class="bx" x="436.1" y="766.7">SCF</text>
<rect class="w" x="455.7" y="756.3" width="39.2" height="13.5"/><text class="bx" x="475.3" y="766.7">IL-3</text>
<rect class="y" x="494.9" y="756.3" width="39.2" height="13.5"/><rect class="yi" x="496.9" y="758.3" width="35.2" height="9.5"/><text class="bx" x="514.5" y="766.7" textLength="34" lengthAdjust="spacingAndGlyphs">GM-CSF</text>
<rect class="w" x="534.1" y="756.3" width="39.2" height="13.5"/><text class="bx" x="553.7" y="766.7">IL-5</text>
</g>
<!-- CFU-M/DC rows -->
<g>
<rect x="378.3" y="979.4" width="274.4" height="13.5" fill="#000"/>
<rect class="w" x="377.3" y="978.4" width="39.2" height="13.5"/><text class="bx" x="396.9" y="988.8">Flt3L</text>
<rect class="w" x="416.5" y="978.4" width="39.2" height="13.5"/><text class="bx" x="436.1" y="988.8">SCF</text>
<rect class="w" x="455.7" y="978.4" width="39.2" height="13.5"/><text class="bx" x="475.3" y="988.8">IL-3</text>
<rect class="y" x="494.9" y="978.4" width="39.2" height="13.5"/><rect class="yi" x="496.9" y="980.4" width="35.2" height="9.5"/><text class="bx" x="514.5" y="988.8" textLength="34" lengthAdjust="spacingAndGlyphs">GM-CSF</text>
<rect class="y" x="534.1" y="978.4" width="39.2" height="13.5"/><rect class="yi" x="536.1" y="980.4" width="35.2" height="9.5"/><text class="bx" x="553.7" y="988.8">TNF</text>
<rect class="w" x="573.3" y="978.4" width="39.2" height="13.5"/><text class="bx" x="592.9" y="988.8">IL-4</text>
<rect class="w" x="612.5" y="978.4" width="39.2" height="13.5"/><text class="bx" x="632.1" y="988.8">M-SCF</text>
<rect x="378.3" y="999" width="470.4" height="13.5" fill="#000"/>
<rect class="w" x="377.3" y="998" width="39.2" height="13.5"/><text class="bx" x="396.9" y="1008.4" textLength="35" lengthAdjust="spacingAndGlyphs">HLA-DR</text>
<rect class="w" x="416.5" y="998" width="39.2" height="13.5"/><text class="bx" x="436.1" y="1008.4">CD15</text>
<rect class="w" x="455.7" y="998" width="39.2" height="13.5"/><text class="bx" x="475.3" y="1008.4">CD116</text>
<rect class="w" x="494.9" y="998" width="39.2" height="13.5"/><text class="bx" x="514.5" y="1008.4">CD123</text>
<rect class="w" x="534.1" y="998" width="39.2" height="13.5"/><text class="bx" x="553.7" y="1008.4">CD33</text>
<rect class="w" x="573.3" y="998" width="39.2" height="13.5"/><text class="bx" x="592.9" y="1008.4">CD124</text>
<rect class="y" x="612.5" y="998" width="39.2" height="13.5"/><rect class="yi" x="614.5" y="1000" width="35.2" height="9.5"/><text class="bx" x="632.1" y="1008.4">CD126</text>
<rect class="y" x="651.7" y="998" width="39.2" height="13.5"/><rect class="yi" x="653.7" y="1000" width="35.2" height="9.5"/><text class="bx" x="671.3" y="1008.4">CD64</text>
<rect class="w" x="690.9" y="998" width="39.2" height="13.5"/><text class="bx" x="710.5" y="1008.4">CD115</text>
<rect class="w" x="730.1" y="998" width="39.2" height="13.5"/><text class="bx" x="749.7" y="1008.4">CD13</text>
<rect class="w" x="769.3" y="998" width="39.2" height="13.5"/><text class="bx" x="788.9" y="1008.4">CD11b</text>
<rect class="w" x="808.5" y="998" width="39.2" height="13.5"/><text class="bx" x="828.1" y="1008.4">CD14</text>
</g>
<!-- Bone marrow row -->
<g>
<rect x="32.1" y="1176" width="313.6" height="13.5" fill="#000"/>
<rect class="w" x="31.1" y="1175" width="39.2" height="13.5"/><text class="bx" x="50.7" y="1185.4">Flt3L</text>
<rect class="w" x="70.3" y="1175" width="39.2" height="13.5"/><text class="bx" x="89.9" y="1185.4">SCF</text>
<rect class="w" x="109.5" y="1175" width="39.2" height="13.5"/><text class="bx" x="129.1" y="1185.4">G-SCF</text>
<rect class="w" x="148.7" y="1175" width="39.2" height="13.5"/><text class="bx" x="168.3" y="1185.4">IL-3</text>
<rect class="w" x="187.9" y="1175" width="39.2" height="13.5"/><text class="bx" x="207.5" y="1185.4">IL-6</text>
<rect class="w" x="227.1" y="1175" width="39.2" height="13.5"/><text class="bx" x="246.7" y="1185.4">IL-11</text>
<rect class="w" x="266.3" y="1175" width="39.2" height="13.5"/><text class="bx" x="285.9" y="1185.4">IL-1</text>
<rect class="y" x="305.5" y="1175" width="39.2" height="13.5"/><rect class="yi" x="307.5" y="1177" width="35.2" height="9.5"/><text class="bx" x="325.1" y="1185.4" textLength="34" lengthAdjust="spacingAndGlyphs">GM-CSF</text>
</g>
<!-- CFU-GM rows -->
<g>
<rect x="379" y="1176" width="196" height="13.5" fill="#000"/>
<rect class="w" x="378" y="1175" width="39.2" height="13.5"/><text class="bx" x="397.6" y="1185.4">Flt3L</text>
<rect class="w" x="417.2" y="1175" width="39.2" height="13.5"/><text class="bx" x="436.8" y="1185.4">SCF</text>
<rect class="w" x="456.4" y="1175" width="39.2" height="13.5"/><text class="bx" x="476" y="1185.4">IL-3</text>
<rect class="y" x="495.6" y="1175" width="39.2" height="13.5"/><rect class="yi" x="497.6" y="1177" width="35.2" height="9.5"/><text class="bx" x="515.2" y="1185.4" textLength="34" lengthAdjust="spacingAndGlyphs">GM-CSF</text>
<rect class="w" x="534.8" y="1175" width="39.2" height="13.5"/><text class="bx" x="554.4" y="1185.4">G-SCF</text>
<rect x="379" y="1195.6" width="548.8" height="13.5" fill="#000"/>
<rect class="w" x="378" y="1194.6" width="39.2" height="13.5"/><text class="bx" x="397.6" y="1205">IL-9R</text>
<rect class="w" x="417.2" y="1194.6" width="39.2" height="13.5"/><text class="bx" x="436.8" y="1205">CD34</text>
<rect class="w" x="456.4" y="1194.6" width="39.2" height="13.5"/><text class="bx" x="476" y="1205" textLength="35" lengthAdjust="spacingAndGlyphs">HLA-DR</text>
<rect class="w" x="495.6" y="1194.6" width="39.2" height="13.5"/><text class="bx" x="515.2" y="1205">CD116</text>
<rect class="y" x="534.8" y="1194.6" width="39.2" height="13.5"/><rect class="yi" x="536.8" y="1196.6" width="35.2" height="9.5"/><text class="bx" x="554.4" y="1205">CD121</text>
<rect class="y" x="574" y="1194.6" width="39.2" height="13.5"/><rect class="yi" x="576" y="1196.6" width="35.2" height="9.5"/><text class="bx" x="593.6" y="1205">CD114</text>
<rect class="w" x="613.2" y="1194.6" width="39.2" height="13.5"/><text class="bx" x="632.8" y="1205">CD123</text>
<rect class="w" x="652.4" y="1194.6" width="39.2" height="13.5"/><text class="bx" x="672" y="1205">CD124</text>
<rect class="y" x="691.6" y="1194.6" width="39.2" height="13.5"/><rect class="yi" x="693.6" y="1196.6" width="35.2" height="9.5"/><text class="bx" x="711.2" y="1205">CD126</text>
<rect class="w" x="730.8" y="1194.6" width="39.2" height="13.5"/><text class="bx" x="750.4" y="1205">CD33</text>
<rect class="w" x="770" y="1194.6" width="39.2" height="13.5"/><text class="bx" x="789.6" y="1205">CD13</text>
<rect class="w" x="809.2" y="1194.6" width="39.2" height="13.5"/><text class="bx" x="828.8" y="1205">CD125</text>
<rect class="w" x="848.4" y="1194.6" width="39.2" height="13.5"/><text class="bx" x="868" y="1205">CD15</text>
<rect class="w" x="887.6" y="1194.6" width="39.2" height="13.5"/><text class="bx" x="907.2" y="1205">CD11b</text>
</g>
<!-- BFU-E rows -->
<g>
<rect x="379" y="1334.7" width="274.4" height="13.5" fill="#000"/>
<rect class="w" x="378" y="1333.7" width="39.2" height="13.5"/><text class="bx" x="397.6" y="1344.1">Flt3L</text>
<rect class="w" x="417.2" y="1333.7" width="39.2" height="13.5"/><text class="bx" x="436.8" y="1344.1">SCF</text>
<rect class="y" x="456.4" y="1333.7" width="39.2" height="13.5"/><rect class="yi" x="458.4" y="1335.7" width="35.2" height="9.5"/><text class="bx" x="476" y="1344.1" textLength="34" lengthAdjust="spacingAndGlyphs">GM-CSF</text>
<rect class="w" x="495.6" y="1333.7" width="39.2" height="13.5"/><text class="bx" x="515.2" y="1344.1">IL-3</text>
<rect class="w" x="534.8" y="1333.7" width="39.2" height="13.5"/><text class="bx" x="554.4" y="1344.1">IL-4</text>
<rect class="w" x="574" y="1333.7" width="39.2" height="13.5"/><text class="bx" x="593.6" y="1344.1">EPO</text>
<rect class="w" x="613.2" y="1333.7" width="39.2" height="13.5"/><text class="bx" x="632.8" y="1344.1">TPO</text>
<rect x="379" y="1354" width="470.4" height="13.5" fill="#000"/>
<rect class="w" x="378" y="1353" width="39.2" height="13.5"/><text class="bx" x="397.6" y="1363.4" textLength="35" lengthAdjust="spacingAndGlyphs">HLA-DR</text>
<rect class="w" x="417.2" y="1353" width="39.2" height="13.5"/><text class="bx" x="436.8" y="1363.4">EPOR</text>
<rect class="w" x="456.4" y="1353" width="39.2" height="13.5"/><text class="bx" x="476" y="1363.4">CD33</text>
<rect class="w" x="495.6" y="1353" width="39.2" height="13.5"/><text class="bx" x="515.2" y="1363.4">CD34</text>
<rect class="w" x="534.8" y="1353" width="39.2" height="13.5"/><text class="bx" x="554.4" y="1363.4">CD117</text>
<rect class="w" x="574" y="1353" width="39.2" height="13.5"/><text class="bx" x="593.6" y="1363.4">CD123</text>
<rect class="y" x="613.2" y="1353" width="39.2" height="13.5"/><rect class="yi" x="615.2" y="1355" width="35.2" height="9.5"/><text class="bx" x="632.8" y="1363.4">CD36</text>
<rect class="y" x="652.4" y="1353" width="39.2" height="13.5"/><rect class="yi" x="654.4" y="1355" width="35.2" height="9.5"/><text class="bx" x="672" y="1363.4" textLength="34" lengthAdjust="spacingAndGlyphs">CD235a</text>
<rect class="w" x="691.6" y="1353" width="39.2" height="13.5"/><text class="bx" x="711.2" y="1363.4">CD35</text>
<rect class="y" x="730.8" y="1353" width="39.2" height="13.5"/><rect class="yi" x="732.8" y="1355" width="35.2" height="9.5"/><text class="bx" x="750.4" y="1363.4">CD44</text>
<rect class="y" x="770" y="1353" width="39.2" height="13.5"/><rect class="yi" x="772" y="1355" width="35.2" height="9.5"/><text class="bx" x="789.6" y="1363.4">CD55</text>
<rect class="y" x="809.2" y="1353" width="39.2" height="13.5"/><rect class="yi" x="811.2" y="1355" width="35.2" height="9.5"/><text class="bx" x="828.8" y="1363.4">CD59</text>
</g>
<!-- BFU-MK rows -->
<g>
<rect x="378.4" y="1502" width="313.6" height="13.5" fill="#000"/>
<rect class="w" x="377.4" y="1501" width="39.2" height="13.5"/><text class="bx" x="397" y="1511.4">Flt3L</text>
<rect class="w" x="416.6" y="1501" width="39.2" height="13.5"/><text class="bx" x="436.2" y="1511.4">SCF</text>
<rect class="w" x="455.8" y="1501" width="39.2" height="13.5"/><text class="bx" x="475.4" y="1511.4">IL-3</text>
<rect class="w" x="495" y="1501" width="39.2" height="13.5"/><text class="bx" x="514.6" y="1511.4">IL-6</text>
<rect class="w" x="534.2" y="1501" width="39.2" height="13.5"/><text class="bx" x="553.8" y="1511.4">IL-11</text>
<rect class="y" x="573.4" y="1501" width="39.2" height="13.5"/><rect class="yi" x="575.4" y="1503" width="35.2" height="9.5"/><text class="bx" x="593" y="1511.4" textLength="34" lengthAdjust="spacingAndGlyphs">GM-CSF</text>
<rect class="y" x="612.6" y="1501" width="39.2" height="13.5"/><rect class="yi" x="614.6" y="1503" width="35.2" height="9.5"/><text class="bx" x="632.2" y="1511.4" textLength="34" lengthAdjust="spacingAndGlyphs">Meg-CSF</text>
<rect class="w" x="651.8" y="1501" width="39.2" height="13.5"/><text class="bx" x="671.4" y="1511.4">TPO</text>
<rect x="378.4" y="1522" width="548.8" height="13.5" fill="#000"/>
<rect class="w" x="377.4" y="1521" width="39.2" height="13.5"/><text class="bx" x="397" y="1531.4" textLength="35" lengthAdjust="spacingAndGlyphs">HLA-DR</text>
<rect class="w" x="416.6" y="1521" width="39.2" height="13.5"/><text class="bx" x="436.2" y="1531.4">CD33</text>
<rect class="w" x="455.8" y="1521" width="39.2" height="13.5"/><text class="bx" x="475.4" y="1531.4">CD34</text>
<rect class="y" x="495" y="1521" width="39.2" height="13.5"/><rect class="yi" x="497" y="1523" width="35.2" height="9.5"/><text class="bx" x="514.6" y="1531.4">IL-11R</text>
<rect class="w" x="534.2" y="1521" width="39.2" height="13.5"/><text class="bx" x="553.8" y="1531.4">CD116</text>
<rect class="w" x="573.4" y="1521" width="39.2" height="13.5"/><text class="bx" x="593" y="1531.4">CD123</text>
<rect class="y" x="612.6" y="1521" width="39.2" height="13.5"/><rect class="yi" x="614.6" y="1523" width="35.2" height="9.5"/><text class="bx" x="632.2" y="1531.4">CD126</text>
<rect class="y" x="651.8" y="1521" width="39.2" height="13.5"/><rect class="yi" x="653.8" y="1523" width="35.2" height="9.5"/><text class="bx" x="671.4" y="1531.4">CD61</text>
<rect class="y" x="691" y="1521" width="39.2" height="13.5"/><rect class="yi" x="693" y="1523" width="35.2" height="9.5"/><text class="bx" x="710.6" y="1531.4">CD9</text>
<rect class="w" x="730.2" y="1521" width="39.2" height="13.5"/><text class="bx" x="749.8" y="1531.4">CD14</text>
<rect class="y" x="769.4" y="1521" width="39.2" height="13.5"/><rect class="yi" x="771.4" y="1523" width="35.2" height="9.5"/><text class="bx" x="789" y="1531.4">CD36</text>
<rect class="y" x="808.6" y="1521" width="39.2" height="13.5"/><rect class="yi" x="810.6" y="1523" width="35.2" height="9.5"/><text class="bx" x="828.2" y="1531.4">CD41</text>
<rect class="y" x="847.8" y="1521" width="39.2" height="13.5"/><rect class="yi" x="849.8" y="1523" width="35.2" height="9.5"/><text class="bx" x="867.4" y="1531.4">CD42</text>
<rect class="y" x="887" y="1521" width="39.2" height="13.5"/><rect class="yi" x="889" y="1523" width="35.2" height="9.5"/><text class="bx" x="906.6" y="1531.4">CD49</text>
</g>

<!-- footer -->
<text x="13.3" y="1552.8">04640 3/31/09</text>
<text x="13.3" y="1562.2">(c) Kanehisa Laboratories</text>
</svg>
</body></html>
